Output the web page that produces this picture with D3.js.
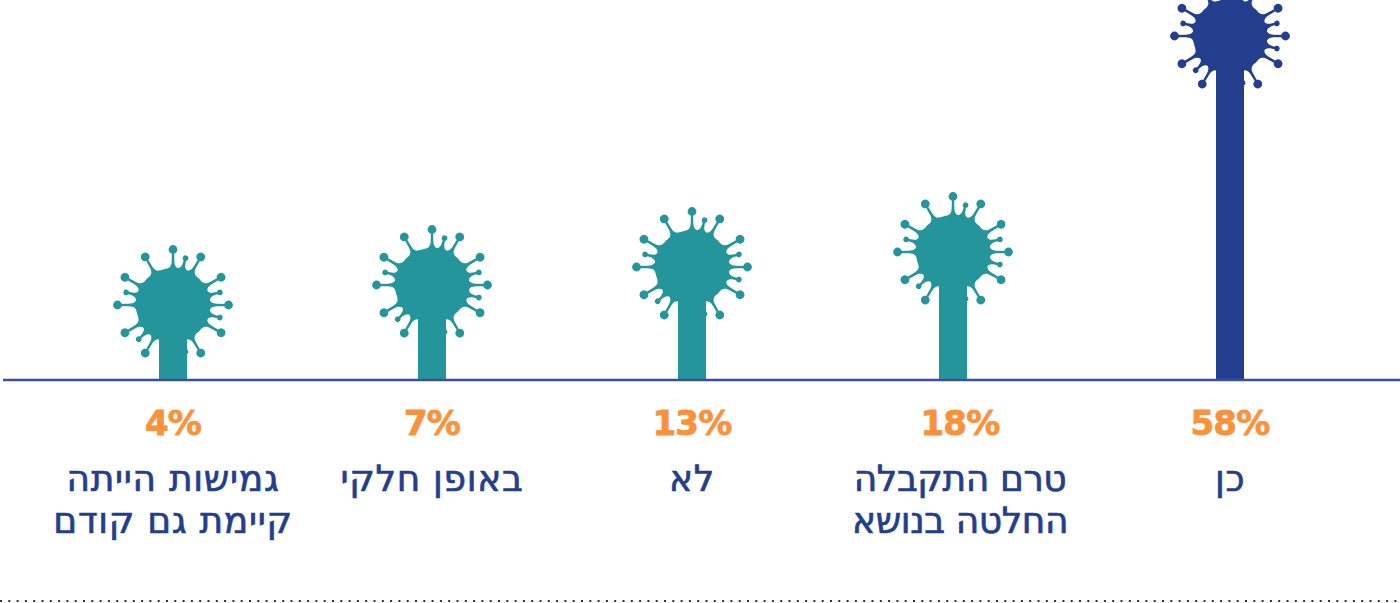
<!DOCTYPE html>
<html lang="he">
<head>
<meta charset="utf-8">
<title>Chart</title>
<script src="https://d3js.org/d3.v7.min.js"></script>
<style>
    html, body { margin: 0; padding: 0; background: #fff; overflow: hidden; }
    svg { display: block; }
    .value { font-family: "DejaVu Sans", sans-serif; font-weight: bold; font-size: 34px; letter-spacing: -0.8px; fill: #fa923c; stroke: #fa923c; stroke-width: 0.8px; text-anchor: middle; }
    .label { font-family: "DejaVu Sans", sans-serif; font-size: 36px; letter-spacing: 0.7px; fill: #233e8c; stroke: #233e8c; stroke-width: 0.7px; text-anchor: middle; direction: rtl; }
    .label.tight { letter-spacing: -0.4px; }
</style>
</head>
<body>
<svg id="chart"></svg>
<script>
// Data, left to right as in the picture
var categories = ['partial-before', 'partial', 'no', 'undecided', 'yes'];
var values = [4, 7, 13, 18, 58];
var labels = [
    ['גמישות הייתה', 'קיימת גם קודם'],
    ['באופן חלקי'],
    ['לא'],
    ['טרם התקבלה', 'החלטה בנושא'],
    ['כן']
];
var colors = ['#24959b', '#24959b', '#24959b', '#24959b', '#233e8c'];

var w = 1400, h = 603;
var baseY = 380;

var svg = d3.select('#chart').attr('width', w).attr('height', h);

// Scales:
// NOTE The original is not to scale: heights are not proportional to the
// values, so the y scale is piecewise to follow the picture.
var xScale = d3.scaleOrdinal().domain(categories).range([173, 432, 692, 953, 1230]);
var xText = d3.scaleOrdinal().domain(categories).range([173, 432, 692, 960, 1230]);
var yScale = d3.scaleLinear().domain([4, 7, 18, 58]).range([305, 285, 252, 36]);

// Virus outline (drawn pointing up, then rotated)
var bodyRadius = 37;
var bigAngles = d3.range(0, 360, 30);
var smallAngles = [15, 75, 105, 165, 225, 285];

function spikePath(length, knob) {
    var r = bodyRadius;
    var p = d3.path();
    p.moveTo(-6.5, -r + 1);
    p.bezierCurveTo(-3, -r - 0.5, -1.5, -r - 2, -1.3, -r - 7);
    p.lineTo(-1.1, -length);
    p.lineTo(1.1, -length);
    p.lineTo(1.3, -r - 7);
    p.bezierCurveTo(1.5, -r - 2, 3, -r - 0.5, 6.5, -r + 1);
    p.closePath();
    p.moveTo(knob, -length);
    p.arc(0, -length, knob, 0, 2 * Math.PI);
    return p.toString();
}

var data = categories.map((c, i) => ({ key: c, value: values[i], lines: labels[i], color: colors[i] }));

var bars = svg.selectAll('g.bar').data(data).enter().append('g').classed('bar', true)
    .attr('fill', (d) => d.color);

// The stems:
bars.append('rect')
    .attr('x', (d) => xScale(d.key) - 14)
    .attr('y', (d) => yScale(d.value))
    .attr('width', 28)
    .attr('height', (d) => baseY - yScale(d.value));

// The virus heads:
var heads = bars.append('g')
    .attr('transform', (d) => 'translate(' + xScale(d.key) + ', ' + yScale(d.value) + ')');
heads.append('circle').attr('r', bodyRadius);
heads.selectAll('path.big').data(bigAngles).enter().append('path').classed('big', true)
    .attr('d', spikePath(55.5, 4.4))
    .attr('transform', (a) => 'rotate(' + a + ')');
heads.selectAll('path.small').data(smallAngles).enter().append('path').classed('small', true)
    .attr('d', spikePath(48.5, 2.8))
    .attr('transform', (a) => 'rotate(' + a + ')');

// Base line:
svg.append('line')
    .attr('x1', 3).attr('x2', w)
    .attr('y1', baseY).attr('y2', baseY)
    .attr('stroke', '#3a509f')
    .attr('stroke-width', 2.5);

// Values:
svg.selectAll('text.value').data(data).enter().append('text').classed('value', true)
    .attr('x', (d) => xText(d.key))
    .attr('y', 435)
    .text((d) => d.value + '%');

// Labels:
var texts = svg.selectAll('text.label').data(data).enter().append('text').classed('label', true)
    .classed('tight', (d) => d.key == 'undecided');
texts.selectAll('tspan').data((d) => d.lines.map((l) => ({ key: d.key, line: l }))).enter().append('tspan')
    .attr('x', (d) => xText(d.key))
    .attr('y', (d, i) => 491 + i * 42)
    .text((d) => d.line);

// Dotted line at the bottom:
svg.append('line')
    .attr('x1', 0).attr('x2', w)
    .attr('y1', 601).attr('y2', 601)
    .attr('stroke', '#333')
    .attr('stroke-width', 2)
    .attr('stroke-dasharray', '2 6.3');
</script>
</body>
</html>
